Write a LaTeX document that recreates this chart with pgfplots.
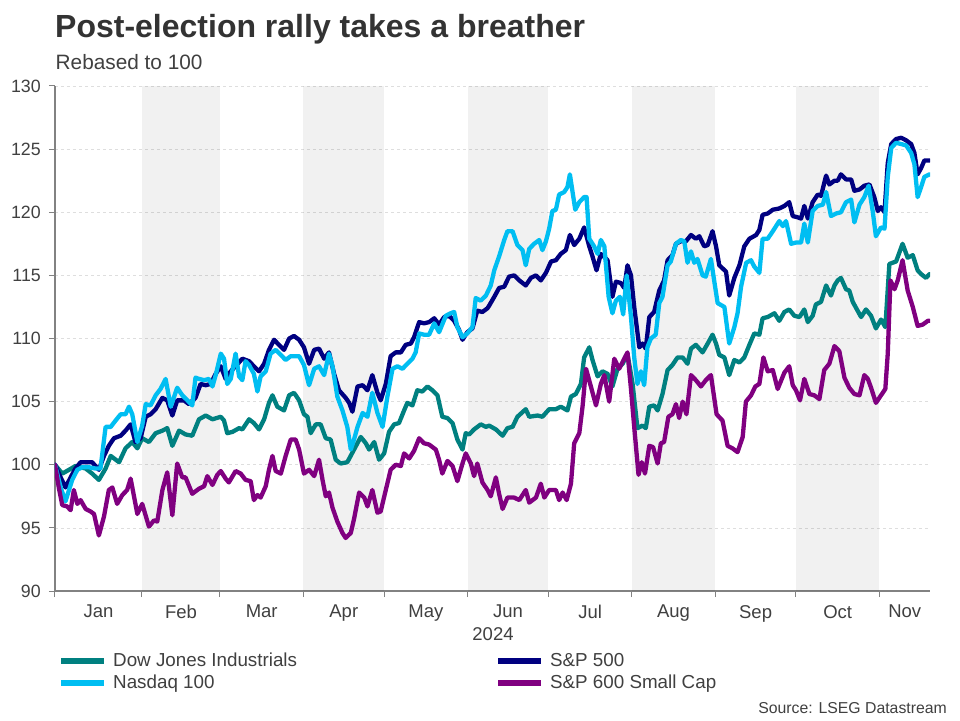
\documentclass[border=0pt]{standalone}
\usepackage{pgfplots}
\pgfplotsset{compat=1.18}
\usepackage{fontspec}
\setmainfont{Liberation Sans}
\definecolor{dowc}{RGB}{0,128,128}
\definecolor{spxc}{RGB}{0,0,128}
\definecolor{ndxc}{RGB}{0,190,242}
\definecolor{smlc}{RGB}{128,0,128}
\definecolor{gridc}{RGB}{222,222,222}
\definecolor{axisc}{RGB}{130,130,130}
\definecolor{textc}{RGB}{64,64,64}
\definecolor{titlec}{RGB}{51,51,51}
\begin{document}
\begin{tikzpicture}
\fill[white] (0pt,0pt) rectangle (960pt,720pt);
\node[anchor=base west, inner sep=0pt, text=titlec, font=\fontsize{32}{36}\selectfont\bfseries] at (55pt,682.7pt) {Post-election rally takes a breather};
\node[anchor=base west, inner sep=0pt, text=textc, font=\fontsize{20.8}{24}\selectfont] at (55.5pt,650pt) {Rebased to 100};
\begin{axis}[
  at={(55pt,129pt)}, anchor=south west,
  scale only axis, width=875pt, height=505pt,
  xmin=-1.3, xmax=323.8, ymin=90, ymax=130,
  axis x line*=bottom, axis y line*=left,
  axis line style={-, draw=axisc, line width=1.2pt},
  /pgf/number format/assume math mode=true,
  ytick={90,95,...,130},
  yticklabel style={font=\fontsize{17.8}{20}\selectfont, text=textc, inner sep=0pt, xshift=-8pt},
  xtick={14.85,45.5,75.5,106,136.5,167,197.5,228.5,259,289.5,314.4},
  xticklabels={Jan,Feb,Mar,Apr,May,Jun,Jul,Aug,Sep,Oct,Nov},
  xticklabel style={font=\fontsize{18.5}{20}\selectfont, text=textc, inner sep=0pt, yshift=-8pt},
  tick align=outside,
  major tick length=6pt,
  tick style={draw=axisc, line width=1pt},
  xtick style={draw=none},
  extra x ticks={-1.3,31,60,91,121,152,182,213,244,274,305},
  extra x tick labels={},
  extra x tick style={xtick style={draw=axisc, line width=1pt}, major tick length=6pt},
  ymajorgrids=true,
  grid style={draw=gridc, dash pattern=on 3pt off 3pt, line width=0.7pt},
  legend columns=2,
  legend cell align=left,
  legend style={at={(0,0)}, anchor=north west, xshift=3pt, yshift=-59pt,
    draw=none, fill=none, inner sep=0pt, font=\fontsize{18.8}{20}\selectfont, text=textc,
    row sep=0pt,
    /tikz/every even column/.append style={column sep=196pt},
    /tikz/every odd column/.append style={column sep=4pt},
    nodes={inner sep=2pt, text height=14pt, text depth=4pt}},
  legend image code/.code={\draw[#1, line width=6pt, line cap=butt] (0pt,0pt) -- (43pt,0pt);},
  every axis plot/.append style={line width=4.3pt, line join=round, line cap=round, mark=none},
]
\fill[black, opacity=0.055] (axis cs:31,90) rectangle (axis cs:60,130);
\fill[black, opacity=0.055] (axis cs:91,90) rectangle (axis cs:121,130);
\fill[black, opacity=0.055] (axis cs:152,90) rectangle (axis cs:182,130);
\fill[black, opacity=0.055] (axis cs:213,90) rectangle (axis cs:244,130);
\fill[black, opacity=0.055] (axis cs:274,90) rectangle (axis cs:305,130);
% Dow Jones Industrials
\addplot[color=dowc] coordinates {
(-1.3,100.0)(1.4,99.3)(3.9,99.6)(6.3,99.9)(10.1,99.7)(12.5,99.3)(15.0,98.8)(17.5,99.7)(19.4,100.7)(22.5,100.2)
(24.9,101.3)(27.4,101.8)(29.3,101.3)(31.1,102.1)(33.6,101.8)(36.1,102.5)(38.6,102.7)(40.4,102.9)(42.3,101.5)(44.8,102.7)
(47.2,102.4)(49.7,102.3)(52.2,103.6)(54.7,103.9)(57.2,103.6)(60.3,103.8)(61.5,103.5)(62.7,102.5)(64.6,102.6)(67.1,102.9)
(68.3,102.8)(70.8,103.6)(72.6,103.3)(74.5,102.8)(76.4,103.6)(78.2,104.9)(79.5,105.5)(81.3,104.6)(83.8,104.3)(85.7,105.5)
(87.5,105.7)(89.4,105.1)(91.2,104.0)(92.5,103.8)(93.7,102.5)(95.6,103.2)(97.4,103.2)(99.3,102.1)(101.1,102.0)(103.0,100.4)
(104.8,100.1)(107.3,100.2)(109.8,101.2)(112.3,102.2)(114.2,101.7)(115.4,101.2)(117.3,101.8)(119.1,100.4)(121.0,100.9)(122.8,102.6)
(124.7,103.2)(126.5,103.3)(128.4,104.3)(129.6,104.9)(131.5,104.7)(133.3,105.9)(135.2,105.8)(137.1,106.2)(138.9,105.9)(140.8,105.5)
(142.6,103.8)(144.5,103.7)(146.4,103.3)(148.2,102.0)(150.1,101.2)(151.3,102.5)(152.6,102.4)(154.4,102.8)(156.9,103.2)(158.8,103.0)
(160.0,103.1)(162.5,102.8)(165.0,102.3)(166.8,102.9)(168.7,103.0)(170.5,103.8)(173.6,104.4)(174.9,103.8)(178.0,103.9)(179.8,103.8)
(182.3,104.4)(184.8,104.4)(186.6,104.6)(189.1,104.3)(190.4,105.4)(192.2,105.6)(194.1,106.4)(195.3,108.5)(197.2,109.3)(198.4,108.3)
(200.3,107.0)(202.1,107.4)(204.0,107.2)(205.8,106.2)(207.7,107.6)(209.6,108.0)(211.4,108.8)(213.3,106.4)(215.1,102.9)(217.0,103.1)
(218.2,102.9)(219.5,104.6)(221.3,104.7)(222.6,104.3)(224.4,105.6)(226.3,107.5)(228.1,107.9)(230.0,108.5)(231.9,108.5)(233.7,108.0)
(235.0,109.2)(236.8,109.5)(239.3,108.9)(241.2,109.6)(243.0,110.3)(244.3,109.6)(245.5,108.7)(247.4,108.5)(249.2,107.1)(251.1,108.3)
(253.0,108.1)(254.8,108.5)(256.7,109.5)(258.5,110.4)(260.4,110.3)(261.6,111.6)(263.5,111.7)(266.0,112.0)(267.8,111.4)(269.7,112.1)
(271.5,112.3)(273.4,111.8)(275.3,111.7)(277.1,112.3)(278.4,111.3)(280.2,111.8)(281.4,112.7)(283.3,112.9)(285.2,114.2)(287.0,113.4)
(288.3,114.2)(289.5,114.6)(290.7,114.8)(292.6,113.9)(293.8,113.8)(295.1,112.9)(296.9,112.2)(298.2,111.7)(300.0,112.3)(301.9,111.8)
(303.7,110.8)(305.6,111.5)(307.2,110.9)(308.7,115.9)(309.9,116.0)(311.2,116.1)(313.6,117.5)(315.5,116.4)(317.4,116.6)(319.2,115.4)
(320.5,115.1)(322.3,114.8)(323.6,115.1)
};
\addlegendentry{Dow Jones Industrials}
% S&P 500
\addplot[color=spxc] coordinates {
(-1.3,100.0)(0.8,99.0)(2.6,98.2)(4.5,99.0)(6.3,99.7)(8.2,100.2)(10.7,100.2)(12.5,100.2)(15.0,99.6)(16.9,100.7)
(18.7,101.5)(20.6,102.1)(23.1,102.3)(24.9,102.7)(26.8,103.2)(28.6,101.8)(30.5,102.1)(32.4,103.8)(34.2,104.0)(36.1,104.4)
(38.6,105.3)(40.4,105.1)(42.3,103.9)(44.1,105.1)(46.6,105.1)(48.5,104.8)(50.9,105.3)(52.8,106.4)(54.7,106.3)(56.5,106.4)
(58.4,107.2)(60.3,107.8)(62.1,106.8)(64.0,107.4)(65.8,107.8)(68.3,108.4)(70.8,108.2)(72.6,107.8)(74.5,107.4)(76.4,108.0)
(78.2,109.1)(80.1,109.9)(81.9,109.5)(83.8,109.1)(85.7,110.0)(87.5,110.2)(89.4,109.9)(91.2,109.3)(93.1,108.0)(95.0,109.1)
(96.8,109.2)(98.7,108.4)(100.5,108.9)(102.4,107.2)(104.2,105.9)(106.7,105.3)(108.0,104.9)(109.2,104.2)(111.1,106.2)(113.0,106.3)
(114.8,105.9)(116.6,107.1)(118.5,105.7)(119.7,105.1)(121.6,106.4)(123.4,108.6)(125.3,108.9)(127.2,108.9)(129.0,109.5)(130.9,109.6)
(132.1,110.1)(134.0,111.3)(135.8,111.2)(137.7,111.3)(139.6,111.6)(141.4,111.1)(143.3,111.7)(145.1,111.8)(147.0,111.4)(148.8,110.7)
(150.1,109.9)(151.9,110.5)(153.8,110.8)(155.6,112.2)(157.5,112.1)(159.4,112.4)(160.0,112.6)(161.9,113.3)(163.7,114.0)(165.6,114.1)
(167.4,114.9)(169.3,115.0)(171.2,114.6)(173.6,114.2)(175.5,114.8)(177.4,115.0)(179.2,114.6)(181.1,115.2)(183.0,116.1)(184.8,116.2)
(186.6,116.7)(188.5,117.0)(190.0,118.2)(191.6,117.4)(193.5,117.9)(195.3,118.8)(197.2,117.3)(198.4,116.5)(199.9,115.4)(201.5,116.7)
(204.0,116.2)(205.8,113.3)(207.1,114.5)(208.9,114.4)(210.2,114.0)(211.4,115.8)(212.7,115.0)(213.9,112.5)(215.8,109.3)(217.0,109.6)
(218.2,109.2)(219.5,111.7)(221.3,112.1)(223.2,113.8)(225.0,114.6)(226.3,116.2)(228.1,116.6)(229.4,117.5)(231.2,117.7)(233.1,117.7)
(235.0,118.2)(236.8,117.9)(238.1,118.1)(239.9,117.3)(241.2,117.4)(243.0,118.5)(244.3,117.3)(245.5,115.8)(248.0,115.3)(249.2,113.4)
(251.1,114.8)(253.0,115.8)(254.8,117.3)(256.7,117.9)(259.2,118.2)(260.4,118.6)(261.6,119.8)(263.5,119.9)(265.4,120.2)(267.8,120.3)
(269.7,120.5)(271.5,120.8)(272.8,119.7)(274.6,119.6)(275.9,119.5)(277.1,120.5)(278.4,119.5)(280.2,120.8)(282.1,121.4)(283.3,121.3)
(285.2,122.9)(286.4,122.2)(288.3,122.5)(289.5,122.5)(290.7,123.0)(292.6,122.6)(294.5,122.6)(295.7,121.7)(297.6,121.8)(299.4,122.1)
(301.3,122.2)(303.1,121.2)(304.4,120.1)(305.6,120.4)(306.9,120.0)(308.1,123.9)(309.4,125.4)(311.2,125.8)(313.1,125.9)(314.9,125.7)
(316.8,125.4)(318.0,124.7)(319.2,123.0)(320.5,123.5)(321.7,124.1)(323.6,124.1)
};
\addlegendentry{S\&P 500}
% Nasdaq 100
\addplot[color=ndxc] coordinates {
(-1.3,100.0)(0.8,98.2)(2.6,97.1)(3.9,98.0)(5.1,98.8)(7.0,99.6)(8.8,99.8)(11.3,99.8)(13.8,99.7)(15.6,99.7)
(17.5,103.0)(19.4,103.0)(21.2,103.5)(23.1,104.0)(24.9,104.0)(26.2,104.6)(27.4,104.0)(29.3,101.8)(31.1,103.1)(32.4,104.8)
(34.2,104.7)(36.1,105.5)(37.9,106.0)(39.8,106.8)(41.7,104.6)(44.1,106.1)(46.0,105.5)(47.9,105.1)(49.7,104.7)(50.9,106.9)
(52.2,106.8)(54.1,106.7)(55.9,106.8)(57.2,106.2)(58.4,107.1)(60.3,108.8)(61.5,108.4)(62.7,106.4)(64.0,106.8)(65.8,108.8)
(67.1,107.0)(68.3,106.7)(69.5,108.2)(70.8,107.9)(72.6,107.2)(73.9,105.8)(75.1,107.0)(77.0,107.4)(78.8,108.8)(80.7,109.1)
(82.6,108.7)(84.4,108.3)(86.3,108.6)(88.1,108.6)(89.4,108.6)(91.2,107.9)(93.1,106.3)(95.0,107.6)(96.8,107.8)(98.7,107.1)
(100.5,108.8)(101.8,107.8)(103.6,105.4)(105.5,104.3)(107.3,103.0)(108.6,101.2)(109.8,102.0)(111.1,103.0)(113.0,104.1)(114.8,103.8)
(116.6,105.7)(118.5,104.1)(120.4,103.0)(122.2,105.4)(124.1,107.6)(125.9,107.8)(127.8,107.6)(129.6,108.0)(131.5,108.4)(132.7,108.9)
(134.0,110.4)(135.8,110.3)(137.7,110.3)(139.6,111.2)(141.4,110.5)(143.9,111.8)(145.7,112.0)(147.0,112.1)(148.2,110.9)(150.1,110.1)
(151.9,110.4)(153.8,110.9)(155.0,113.2)(156.9,113.0)(158.8,113.4)(160.6,114.2)(161.9,115.4)(163.7,116.5)(165.6,117.8)(166.8,118.5)
(168.7,118.5)(170.5,117.4)(172.4,117.0)(173.6,115.8)(174.9,117.1)(176.7,117.5)(178.6,117.8)(179.8,117.0)(181.1,117.7)(182.3,118.7)
(183.5,120.1)(184.8,120.2)(186.0,121.4)(187.9,121.6)(189.1,122.0)(190.0,123.0)(191.0,121.6)(192.0,120.2)(193.5,120.8)(195.3,121.2)
(196.2,121.2)(197.2,117.9)(199.0,117.3)(200.3,116.7)(201.5,117.8)(202.8,117.3)(204.4,113.3)(205.8,112.0)(207.1,113.0)(208.6,113.3)
(209.8,111.9)(211.1,115.0)(212.7,111.7)(213.9,108.5)(215.1,106.4)(216.4,107.4)(217.6,106.3)(218.8,109.3)(220.1,110.0)(221.9,110.3)
(223.2,112.8)(224.4,113.3)(226.3,115.8)(227.5,116.1)(229.4,117.5)(231.2,117.8)(232.5,117.7)(233.7,116.0)(235.0,116.9)(236.2,116.0)
(237.4,116.3)(239.3,115.0)(240.5,114.9)(242.4,116.3)(243.6,114.6)(244.9,112.8)(247.4,112.5)(249.2,109.6)(251.1,110.9)(252.3,112.0)
(253.6,114.1)(255.5,116.0)(257.3,116.2)(258.5,115.7)(260.4,115.2)(261.6,117.9)(263.5,117.9)(265.4,118.5)(267.8,119.3)(269.1,118.9)
(270.3,119.3)(272.2,117.5)(274.0,117.6)(275.9,117.6)(277.1,119.1)(278.4,117.6)(280.2,120.1)(282.1,120.5)(284.0,120.6)(285.2,121.6)
(287.0,119.7)(288.9,119.9)(290.7,120.0)(292.6,120.8)(294.5,121.0)(295.7,119.2)(297.6,120.6)(299.4,121.2)(301.0,122.1)(302.5,120.1)
(303.7,118.1)(305.6,118.8)(306.9,118.7)(308.1,122.8)(309.4,125.1)(311.2,125.5)(313.1,125.4)(314.9,125.3)(316.8,124.7)(318.0,123.8)
(319.2,121.2)(320.5,122.0)(321.7,122.8)(323.6,123.0)
};
\addlegendentry{Nasdaq 100}
% S&P 600 Small Cap
\addplot[color=smlc] coordinates {
(-1.3,100.0)(0.1,98.2)(1.4,96.8)(3.2,96.7)(4.5,96.4)(5.7,98.0)(7.0,96.9)(8.2,97.2)(10.1,96.5)(11.9,96.3)
(13.2,96.1)(15.0,94.4)(16.9,95.9)(18.7,98.0)(20.0,98.2)(21.8,96.9)(23.7,97.6)(25.5,98.0)(26.8,98.9)(29.3,96.1)
(31.1,96.9)(33.6,95.1)(35.5,95.6)(36.7,95.5)(38.6,98.0)(40.4,99.4)(42.3,96.0)(44.1,100.1)(46.0,99.0)(47.2,99.0)
(49.7,97.7)(52.2,98.1)(54.1,98.3)(55.3,99.1)(57.2,98.4)(59.0,99.2)(60.3,99.5)(62.1,98.9)(63.3,98.6)(65.8,99.5)
(67.7,99.3)(69.5,98.8)(71.4,98.7)(72.6,97.2)(73.9,97.6)(75.1,97.4)(77.0,98.3)(78.2,99.6)(79.5,100.7)(80.7,99.5)
(82.6,99.3)(84.4,100.7)(86.3,102.0)(88.1,102.0)(89.4,101.2)(91.2,99.3)(93.1,99.6)(95.0,99.1)(96.8,100.4)(98.1,98.8)
(99.3,97.5)(100.5,97.8)(101.8,96.6)(103.6,95.5)(105.5,94.6)(106.7,94.2)(108.6,94.6)(109.8,95.7)(111.7,97.8)(113.6,97.4)
(114.8,96.7)(116.6,98.0)(118.5,96.2)(119.7,96.3)(121.6,98.0)(123.4,99.6)(125.3,100.0)(127.2,99.9)(128.4,100.9)(130.3,100.5)
(132.1,101.1)(134.0,102.1)(135.8,101.7)(137.7,101.6)(140.2,101.2)(141.4,100.4)(142.6,99.3)(144.5,100.3)(146.4,99.9)(148.2,98.7)
(150.1,100.1)(151.3,100.9)(153.2,100.1)(154.4,99.1)(155.6,100.1)(157.5,98.6)(159.4,98.0)(160.6,97.5)(162.5,99.0)(163.7,97.7)
(165.0,96.5)(166.8,97.4)(169.3,97.4)(171.2,97.2)(173.6,98.0)(174.9,97.0)(177.4,97.4)(179.2,98.5)(180.5,97.4)(182.3,98.0)
(184.8,98.0)(186.0,97.2)(187.3,97.8)(188.8,97.2)(190.4,98.5)(191.6,101.7)(193.5,102.5)(194.7,104.6)(196.0,107.6)(197.8,106.2)
(199.7,104.7)(201.5,106.4)(202.8,107.1)(204.6,105.0)(206.5,108.4)(208.3,107.6)(210.2,108.4)(211.4,108.9)(212.7,106.0)(213.9,103.0)
(215.5,99.2)(216.7,100.2)(217.9,99.3)(219.5,101.5)(220.9,101.4)(222.6,100.1)(223.8,101.7)(225.0,101.8)(226.6,103.8)(228.1,104.0)
(229.4,104.8)(230.6,103.7)(231.9,105.0)(233.3,104.0)(235.0,107.1)(236.8,106.7)(238.7,106.2)(240.5,106.7)(242.4,107.1)(244.5,104.0)
(246.7,103.5)(248.6,101.5)(250.4,101.3)(252.3,101.0)(254.2,102.2)(255.4,105.0)(257.3,105.5)(258.9,106.2)(260.4,106.4)(261.9,108.5)
(263.5,107.4)(265.4,107.5)(267.2,106.0)(269.7,107.3)(271.5,107.8)(272.8,106.3)(274.0,105.9)(275.5,105.1)(277.1,106.8)(279.0,105.6)
(280.8,105.5)(282.7,105.2)(284.5,107.5)(286.4,108.0)(288.3,109.4)(290.1,109.0)(292.0,106.9)(293.8,106.1)(295.7,105.6)(297.6,105.5)
(299.4,107.1)(300.7,106.8)(301.9,106.1)(303.7,104.9)(305.6,105.5)(307.2,106.0)(308.1,108.8)(309.1,114.6)(310.6,113.9)(311.8,114.6)
(313.6,116.2)(315.5,113.8)(317.4,112.5)(319.2,111.0)(321.1,111.1)(323.0,111.4)(323.6,111.4)
};
\addlegendentry{S\&P 600 Small Cap}
\end{axis}
\node[text=textc, font=\fontsize{18.5}{20}\selectfont, inner sep=0pt] at (493pt,86pt) {2024};
\node[anchor=base east, inner sep=0pt, text=textc, font=\fontsize{15.8}{18}\selectfont] at (947pt,6.5pt) {Source: LSEG Datastream};
\end{tikzpicture}
\end{document}
